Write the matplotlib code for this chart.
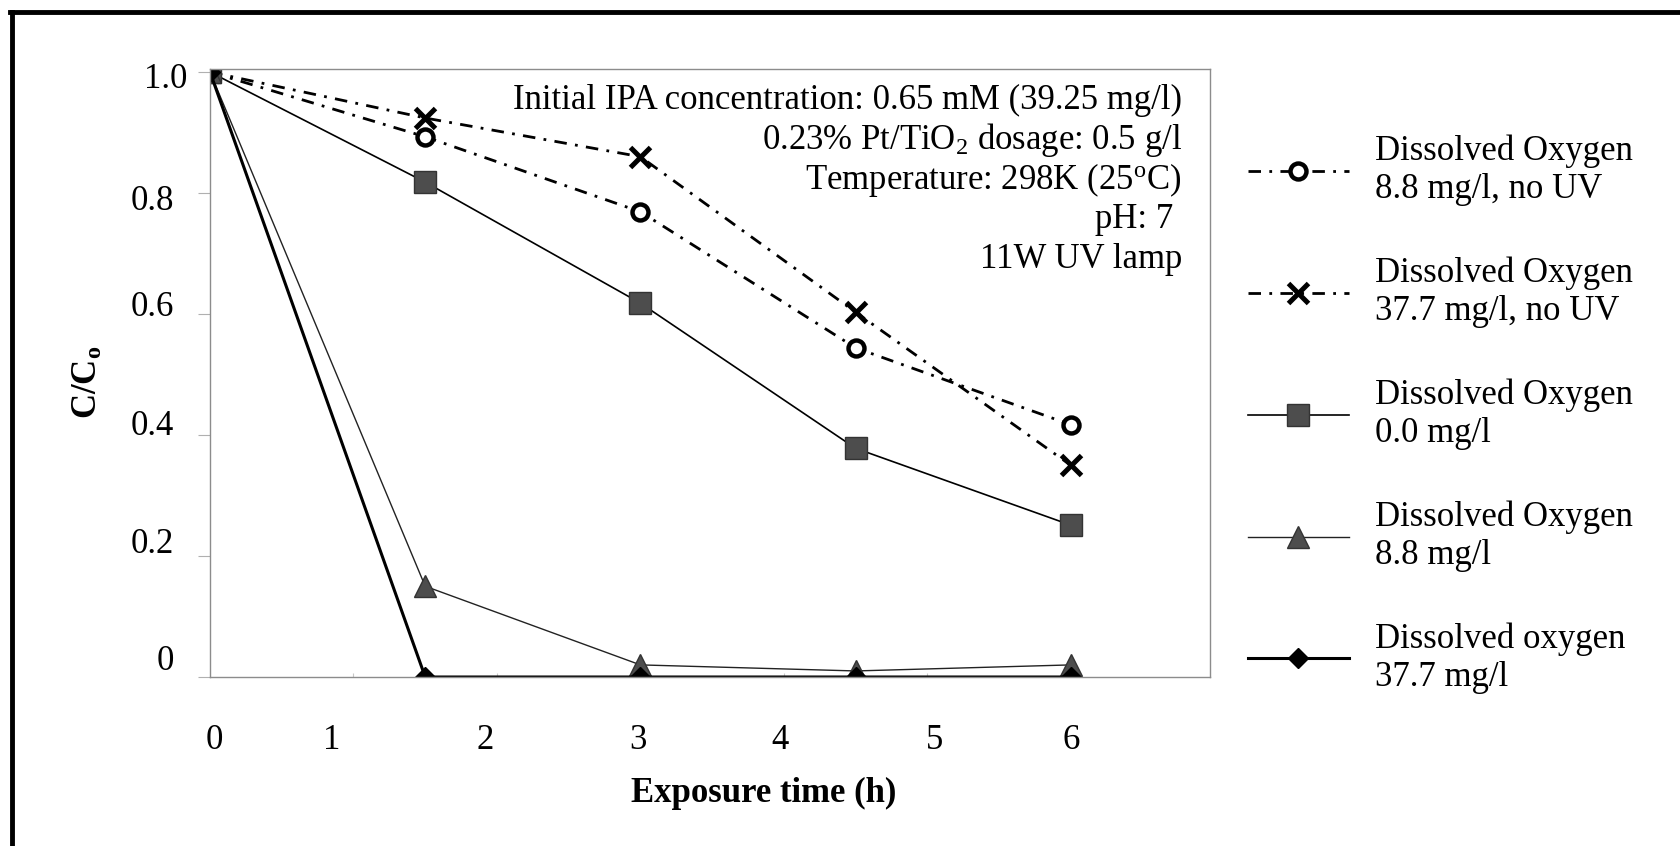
import matplotlib
matplotlib.use('Agg')
import matplotlib.pyplot as plt
from matplotlib.lines import Line2D
from matplotlib.transforms import ScaledTranslation

plt.rcParams['font.family'] = ['Liberation Serif', 'DejaVu Serif']
plt.rcParams['mathtext.fontset'] = 'custom'
plt.rcParams['mathtext.rm'] = 'Liberation Serif'
plt.rcParams['mathtext.bf'] = 'Liberation Serif:bold'
plt.rcParams['mathtext.it'] = 'Liberation Serif:italic'

# Data (C/C0 vs exposure time)
time_h = [0, 1.5, 3, 4.5, 6]
do_88_no_uv = [1.0, 0.893, 0.769, 0.544, 0.417]
do_377_no_uv = [1.0, 0.924, 0.860, 0.603, 0.350]
do_00 = [1.0, 0.818, 0.618, 0.378, 0.251]
do_88 = [1.0, 0.15, 0.02, 0.01, 0.02]
do_377 = [1.0, 0.0, 0.0, 0.0, 0.0]

series_labels = [
    'Dissolved Oxygen\n8.8 mg/l, no UV',
    'Dissolved Oxygen\n37.7 mg/l, no UV',
    'Dissolved Oxygen\n0.0 mg/l',
    'Dissolved Oxygen\n8.8 mg/l',
    'Dissolved oxygen\n37.7 mg/l',
]

x_tick_labels = ['0', '1', '2', '3', '4', '5', '6']
y_tick_labels = ['0', '0.2', '0.4', '0.6', '0.8', '1.0']

info_lines = [
    'Initial IPA concentration: 0.65 mM (39.25 mg/l)',
    r'0.23% Pt/TiO$_\mathregular{2}$ dosage: 0.5 g/l',
    r'Temperature: 298K (25$^\mathregular{o}$C)',
    'pH: 7 ',
    '11W UV lamp',
]

# layout (the scanned chart has its tick labels slightly off the tick marks)
W, H = 1680, 846
X_LABEL_POS = [0.03, 0.85, 1.92, 2.98, 3.97, 5.05, 6.0]
Y_LABEL_POS = [0.033, 0.226, 0.421, 0.618, 0.793, 0.995]
FS = 25

fig = plt.figure(figsize=(W / 100, H / 100), dpi=100)
ax = fig.add_axes([210 / W, 1 - 677 / H, 1000 / W, 608 / H])

dashdot = (0, (4.5, 3, 1, 3))
h1, = ax.plot(time_h, do_88_no_uv, color='black', lw=2, linestyle=dashdot,
              marker='o', ms=11.5, mew=3.2, mfc='white', mec='black')
h2, = ax.plot(time_h, do_377_no_uv, color='black', lw=2, linestyle=dashdot,
              marker='x', ms=14, mew=3.6, mec='black')
h3, = ax.plot(time_h, do_00, color='black', lw=1.2,
              marker='s', ms=16, mfc='#4d4d4d', mec='#333333')
h4, = ax.plot(time_h, do_88, color='#222222', lw=1.0,
              marker='^', ms=16, mfc='#4d4d4d', mec='#333333')
h5, = ax.plot(time_h, do_377, color='black', lw=2.2,
              marker='D', ms=10.5, mfc='black', mec='black')

ax.set_xlim(0, 6.97)
ax.set_ylim(0, 1.005)

for s in ax.spines.values():
    s.set_color('#8c8c8c')
    s.set_linewidth(1.0)

ax.set_xticks(X_LABEL_POS)
ax.set_xticklabels(x_tick_labels)
ax.set_xticks([1, 2, 3, 4, 5, 6], minor=True)
ax.set_yticks(Y_LABEL_POS)
ax.set_yticklabels(y_tick_labels)
ax.set_yticks([0, 0.2, 0.4, 0.6, 0.8, 1.0], minor=True)
ax.tick_params(axis='x', which='major', length=0, pad=34, labelsize=FS)
ax.tick_params(axis='x', which='minor', direction='in', length=3,
               color='#c8c8c8', width=0.8)
ax.tick_params(axis='y', which='major', length=0, pad=26, labelsize=FS)
ax.tick_params(axis='y', which='minor', direction='out', length=9,
               color='#b0b0b0', width=0.8)

# the top label sits closer to the axis in the original
top_lab = ax.get_yticklabels()[-1]
top_lab.set_transform(top_lab.get_transform() +
                      ScaledTranslation(0.13, 0, fig.dpi_scale_trans))

ax.set_xlabel('Exposure time (h)', fontsize=FS, fontweight='bold', va='center')
ax.xaxis.set_label_coords(0.554, -0.191)
ax.set_ylabel(r'$\mathbf{C/C_o}$', fontsize=FS, va='center')
ax.yaxis.set_label_coords(-0.122, 0.484)

# condition notes, right aligned inside the plot
for i, line in enumerate(info_lines):
    fig.text(1182 / W, 1 - (100 + 40 * i) / H, line, fontsize=FS,
             ha='right', va='center')

fig.legend([h1, h2, h3, h4, h5], series_labels, loc='upper left',
           bbox_to_anchor=(1248 / W, 1 - 135 / H), frameon=False,
           fontsize=FS, numpoints=1, handlelength=2.9, handletextpad=0.75,
           labelspacing=1.45, borderpad=0, borderaxespad=0)

# scanned page frame (top and left edges)
fig.add_artist(Line2D([10 / W, 1], [1 - 12 / H, 1 - 12 / H], color='black',
                      lw=3.5, transform=fig.transFigure))
fig.add_artist(Line2D([12 / W, 12 / W], [0, 1 - 12 / H], color='black',
                      lw=3.5, transform=fig.transFigure))

fig.savefig('out.png', dpi=100)
